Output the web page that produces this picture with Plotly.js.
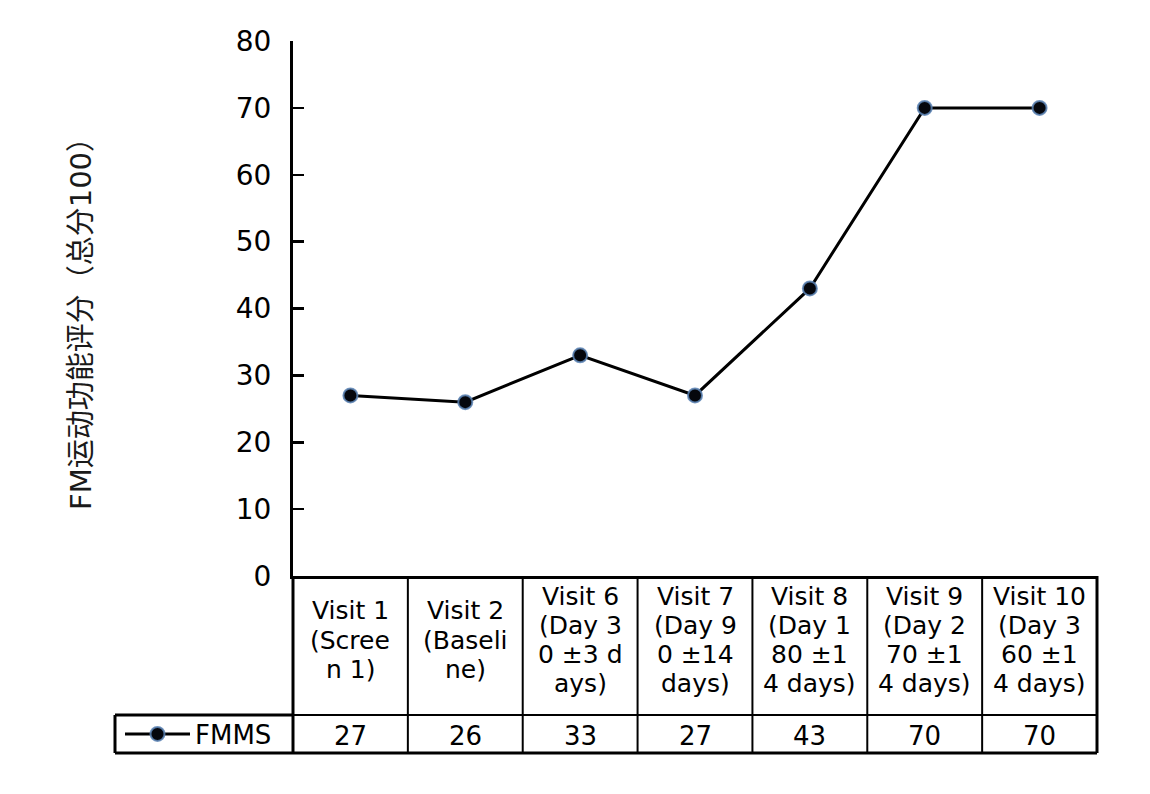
<!DOCTYPE html>
<html>
<head>
<meta charset="utf-8">
<script src="https://cdn.plot.ly/plotly-3.0.1.min.js"></script>
<style>html,body{margin:0;padding:0;background:#fff;}#chart{width:1150px;height:794px;}</style>
</head>
<body>
<div id="chart"></div>
<script>
// ---- data ----
var categories = ["Visit 1", "Visit 2", "Visit 6", "Visit 7", "Visit 8", "Visit 9", "Visit 10"];
var categoryLines = [
  ["Visit 1", "(Scree", "n 1)"],
  ["Visit 2", "(Baseli", "ne)"],
  ["Visit 6", "(Day 3", "0 ±3 d", "ays)"],
  ["Visit 7", "(Day 9", "0 ±14", "days)"],
  ["Visit 8", "(Day 1", "80 ±1", "4 days)"],
  ["Visit 9", "(Day 2", "70 ±1", "4 days)"],
  ["Visit 10", "(Day 3", "60 ±1", "4 days)"]
];
var seriesName = "FMMS";
var fmms = [27, 26, 33, 27, 43, 70, 70];
var yTicks = [0, 10, 20, 30, 40, 50, 60, 70, 80];
var yTitle = "FM运动功能评分（总分100）";

// ---- layout geometry (pixels) ----
var W = 1150, H = 794;
var L = 293, R = 1097, T = 41, B = 576;
var plotH = B - T, plotW = R - L;
function py(pix) { return (B - pix) / plotH; }
function px(pix) { return (pix - L) / plotW; }
var row1Bottom = 715, row2Bottom = 753, legendLeft = 115;
var textFont = "DejaVu Sans, Verdana, sans-serif";

var trace = {
  x: categories,
  y: fmms,
  name: seriesName,
  type: "scatter",
  mode: "lines+markers",
  line: {color: "#000", width: 3},
  marker: {size: 14, color: "#05070d", line: {color: "rgba(90,130,180,0.85)", width: 2}},
  showlegend: true,
  cliponaxis: false
};

var shapes = [];
var thick = 3, thin = 2;
shapes.push({type: "line", xref: "paper", yref: "paper", x0: 0, x1: 1, y0: py(row1Bottom), y1: py(row1Bottom), line: {color: "#000", width: thin}});
shapes.push({type: "line", xref: "paper", yref: "paper", x0: px(legendLeft), x1: 0, y0: py(row1Bottom), y1: py(row1Bottom), line: {color: "#000", width: thick}});
shapes.push({type: "line", xref: "paper", yref: "paper", x0: px(legendLeft), x1: 1, y0: py(row2Bottom), y1: py(row2Bottom), line: {color: "#000", width: thick}});
shapes.push({type: "line", xref: "paper", yref: "paper", x0: px(legendLeft), x1: px(legendLeft), y0: py(row1Bottom), y1: py(row2Bottom), line: {color: "#000", width: thick}});
for (var i = 0; i <= categories.length; i++) {
  var xp = i / categories.length;
  var outer = (i === 0 || i === categories.length);
  shapes.push({type: "line", xref: "paper", yref: "paper", x0: xp, x1: xp, y0: 0, y1: py(row2Bottom), line: {color: "#000", width: outer ? thick : thin}});
}

var annotations = [];
var lineGap = 29.2, blockCenter = 638;
categoryLines.forEach(function (lines, ci) {
  var n = lines.length;
  lines.forEach(function (txt, k) {
    var cy = blockCenter + (k - (n - 1) / 2) * lineGap;
    annotations.push({
      xref: "x", yref: "paper", x: categories[ci], y: py(cy + 2),
      text: txt, showarrow: false, xanchor: "center", yanchor: "middle",
      font: {family: textFont, size: 25, color: "#000"}
    });
  });
});
fmms.forEach(function (v, ci) {
  annotations.push({
    xref: "x", yref: "paper", x: categories[ci], y: py(736),
    text: String(v), showarrow: false, xanchor: "center", yanchor: "middle",
    font: {family: textFont, size: 26, color: "#000"}
  });
});
annotations.push({
  xref: "paper", yref: "paper", x: px(81), y: py(316), textangle: -90,
  text: yTitle, showarrow: false, xanchor: "center", yanchor: "middle",
  font: {family: "DejaVu Sans, Noto Sans CJK SC, sans-serif", size: 29, color: "#1a1a1a"}
});

var layout = {
  width: W, height: H,
  margin: {l: L, r: W - R, t: T, b: H - B, pad: 0},
  paper_bgcolor: "#fff", plot_bgcolor: "#fff",
  showlegend: true,
  legend: {
    x: px(120), y: py(734), xanchor: "left", yanchor: "middle",
    xref: "paper", yref: "paper",
    bgcolor: "rgba(0,0,0,0)", borderwidth: 0,
    font: {family: textFont, size: 26, color: "#000"},
    itemwidth: 65
  },
  xaxis: {
    type: "category", range: [-0.5, categories.length - 0.5],
    showticklabels: false, ticks: "", showgrid: false, zeroline: false,
    showline: true, linecolor: "#000", linewidth: thick, fixedrange: true
  },
  yaxis: {
    range: [0, 80], tickvals: yTicks, ticktext: yTicks.map(String),
    ticks: "inside", ticklen: 11, tickwidth: 2.5, tickcolor: "#000",
    showline: true, linecolor: "#000", linewidth: thick,
    showgrid: false, zeroline: false, ticklabelstandoff: 13,
    tickfont: {family: textFont, size: 28, color: "#000"}, fixedrange: true
  },
  shapes: shapes,
  annotations: annotations
};

Plotly.newPlot("chart", [trace], layout, {displayModeBar: false, staticPlot: true});
</script>
</body>
</html>
